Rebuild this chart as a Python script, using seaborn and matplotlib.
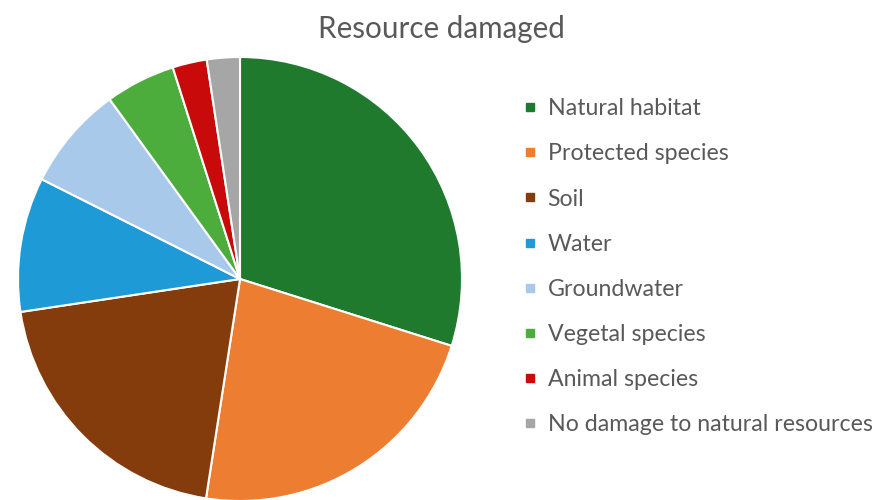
import matplotlib
matplotlib.use("Agg")
import matplotlib.pyplot as plt
from matplotlib.lines import Line2D
import seaborn as sns

categories = [
    "Natural habitat",
    "Protected species",
    "Soil",
    "Water",
    "Groundwater",
    "Vegetal species",
    "Animal species",
    "No damage to natural resources",
]
shares = [29.9, 22.6, 20.2, 9.8, 7.6, 5.1, 2.5, 2.4]
colors = ["#1F7A2E", "#ED7D31", "#843C0C", "#1E9AD6", "#A9C9EA",
          "#4DAD3C", "#C80A0A", "#A6A6A6"]
title = "Resource damaged"

sns.set_theme(style="white")
plt.rcParams["font.family"] = ["Lato", "DejaVu Sans"]
text_color = "#595959"

W, H = 879, 500
fig = plt.figure(figsize=(W / 100, H / 100), dpi=100)
fig.patch.set_facecolor("white")

# pie axes: square box in pixels, centre ~ (240, 279), radius 222
cx, cy, r = 240, 279, 222
ax = fig.add_axes([(cx - r) / W, (H - cy - r) / H, 2 * r / W, 2 * r / H])
ax.pie(shares, colors=colors, startangle=90, counterclock=False,
       radius=1.0, wedgeprops=dict(edgecolor="white", linewidth=1.5))
ax.set_xlim(-1, 1)
ax.set_ylim(-1, 1)
ax.set_aspect("equal")
ax.axis("off")

fig.text(441 / W, 1 - 29 / H, title, ha="center", va="center",
         fontsize=21.3, color=text_color)

handles = [Line2D([0], [0], marker="s", linestyle="none", markersize=5.5,
                  markerfacecolor=c, markeredgecolor=c) for c in colors]
leg = fig.legend(handles, categories, loc="upper left",
                 bbox_to_anchor=(514 / W, 1 - 89 / H), frameon=False,
                 fontsize=16.7, labelspacing=1.04, handlelength=0.6,
                 handletextpad=0.45, borderaxespad=0)
for t in leg.get_texts():
    t.set_color(text_color)

fig.savefig("out.png", dpi=100, facecolor="white")
